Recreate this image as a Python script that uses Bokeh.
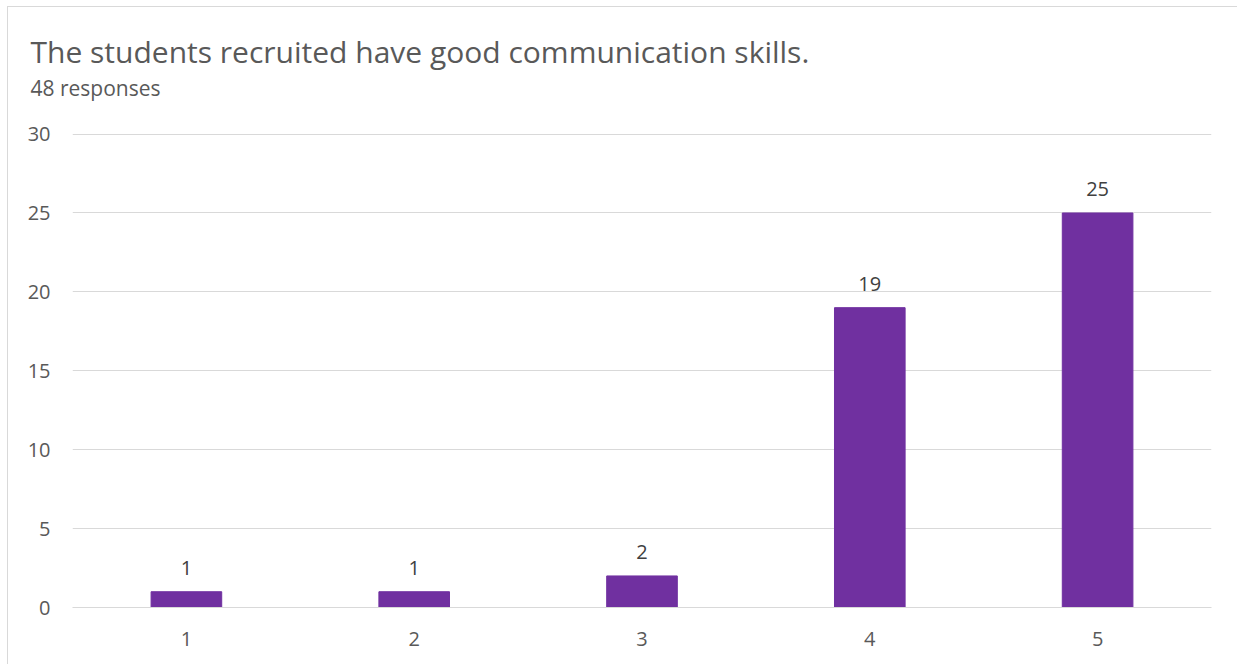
from bokeh.plotting import figure
from bokeh.models import ColumnDataSource, Title, LabelSet, FactorRange
from bokeh.core.properties import value
from bokeh.embed import file_html
from bokeh.resources import INLINE

categories = ["1", "2", "3", "4", "5"]
counts = [1, 1, 2, 19, 25]
y_ticks = [0, 5, 10, 15, 20, 25, 30]
title_text = "The students recruited have good communication skills."
subtitle_text = "48 responses"

FONT = "Open Sans"
GREY = "#595959"

src = ColumnDataSource(dict(cat=categories, val=counts, lab=[str(v) for v in counts]))

p = figure(width=1232, height=660, x_range=FactorRange(*categories, range_padding=0),
           y_range=(0, 30.1), output_backend="svg", toolbar_location=None,
           min_border_left=64, min_border_right=29, min_border_top=125, min_border_bottom=60)
p.styles = {"border": "1px solid #d9d9d9", "margin-left": "7px", "margin-top": "6px"}
p.title.visible = False

p.vbar(x="cat", top="val", width=0.31, source=src, fill_color="#7030A0", line_color="#7030A0")

labels = LabelSet(x="cat", y="val", text="lab", source=src, text_align="center",
                  text_baseline="bottom", y_offset=17, text_font_size="20px",
                  text_color="#404040", text_font=value(FONT))
p.add_layout(labels)

# spacer between the plot area and the subtitle
spacer = Title(text=" ", text_font_size="1px", text_color="#ffffff", standoff=28)
p.add_layout(spacer, "above")
sub = Title(text=subtitle_text, text_font_size="21px", text_color=GREY, text_font=FONT,
            text_font_style="normal", align="left", offset=-42, standoff=0)
p.add_layout(sub, "above")
main = Title(text=title_text, text_font_size="30px", text_color=GREY, text_font=FONT,
             text_font_style="normal", align="left", offset=-42, standoff=0)
p.add_layout(main, "above")

p.outline_line_color = None
p.xgrid.grid_line_color = None
p.ygrid.grid_line_color = "#d9d9d9"
p.ygrid.grid_line_width = 1

p.yaxis.ticker = y_ticks
p.yaxis.axis_line_color = None
p.yaxis.major_tick_line_color = None
p.yaxis.minor_tick_line_color = None
p.yaxis.major_label_text_font_size = "20px"
p.yaxis.major_label_text_color = GREY
p.yaxis.major_label_text_font = FONT
p.yaxis.major_label_standoff = 16

p.xaxis.axis_line_color = "#d9d9d9"
p.xaxis.major_tick_line_color = None
p.xaxis.minor_tick_line_color = None
p.xaxis.major_label_text_font_size = "20px"
p.xaxis.major_label_text_color = GREY
p.xaxis.major_label_text_font = FONT
p.xaxis.major_label_standoff = 18

open("out.html", "w").write(file_html(p, INLINE))
